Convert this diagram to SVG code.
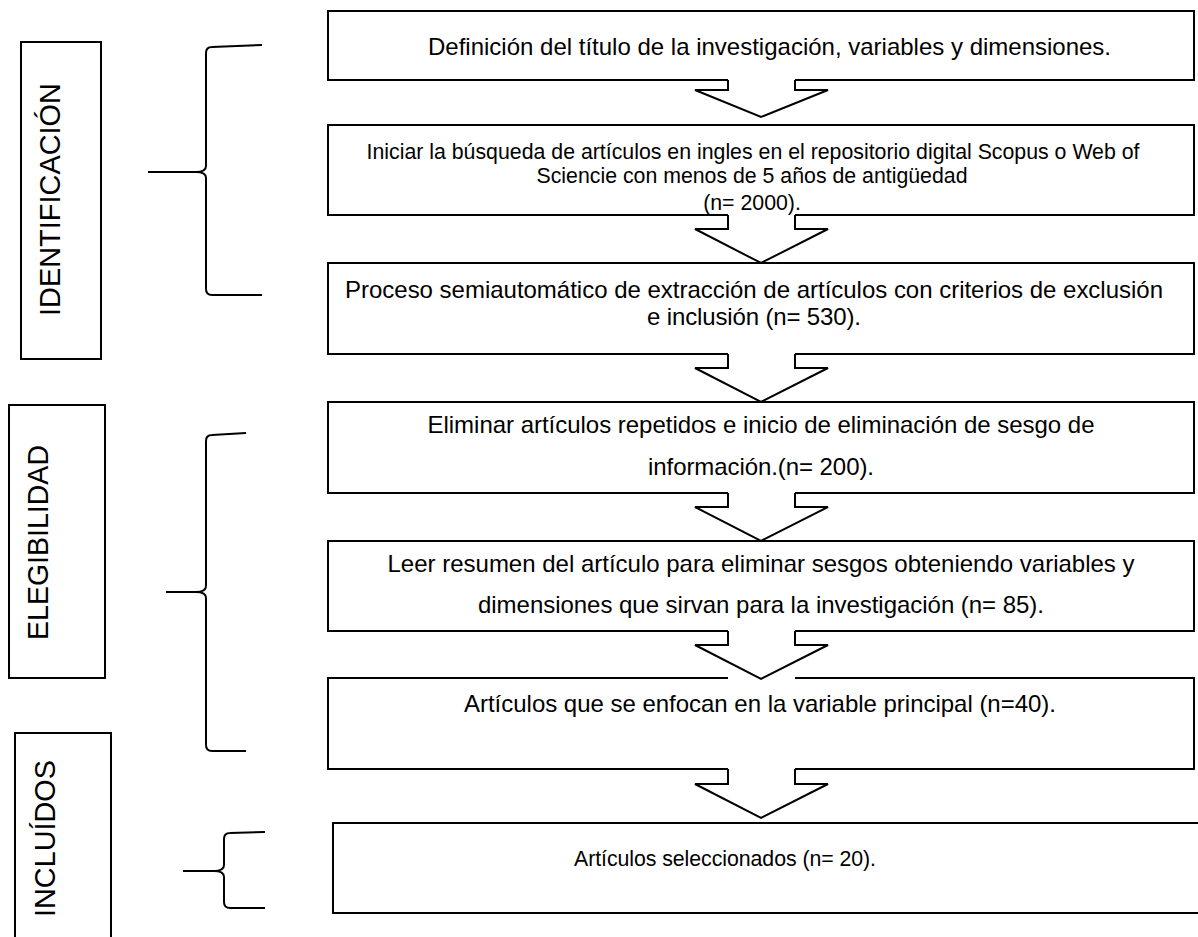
<svg xmlns="http://www.w3.org/2000/svg" width="1198" height="937" viewBox="0 0 1198 937">
<style>
.bx{fill:none;stroke:#000;stroke-width:2;stroke-linejoin:miter}
.lb{fill:#fff;stroke:#000;stroke-width:2}
.br{fill:none;stroke:#000;stroke-width:2;stroke-linecap:butt}
.ar{fill:#fff;stroke:#000;stroke-width:2;stroke-linejoin:miter}
.t{font-family:"Liberation Sans",Arial,sans-serif;fill:#000;text-anchor:middle}
.v{font-family:"Liberation Sans",Arial,sans-serif;fill:#000;font-size:29px}
</style>
<rect width="1198" height="937" fill="#fff"/>
<g id="label-identificacion">
<rect class="lb" x="21" y="42" width="80" height="317"/>
<text class="v" transform="translate(60,316) rotate(-90)" textLength="233" lengthAdjust="spacingAndGlyphs">IDENTIFICACIÓN</text>
</g>
<g id="label-elegibilidad">
<rect class="lb" x="9" y="405" width="96" height="273"/>
<text class="v" transform="translate(48,640) rotate(-90)" textLength="195" lengthAdjust="spacingAndGlyphs">ELEGIBILIDAD</text>
</g>
<g id="label-incluidos">
<rect class="lb" x="15" y="733" width="96" height="230"/>
<text class="v" transform="translate(55,917) rotate(-90)" textLength="157" lengthAdjust="spacingAndGlyphs">INCLUÍDOS</text>
</g>
<g id="brace-identificacion">
<path class="br" d="M262,45 L212,47 Q206,47 206,53 L206,166 Q206,172 196,172 L148,172 M196,172 Q206,172 206,178 L206,289 Q206,295 212,295 L262,295"/>
</g>
<g id="brace-elegibilidad">
<path class="br" d="M246,433 L212,435 Q206,435 206,441 L206,586 Q206,592 196,592 L166,592 M196,592 Q206,592 206,598 L206,745 Q206,751 212,751 L246,751"/>
</g>
<g id="brace-incluidos">
<path class="br" d="M265,832 L230,833 Q224,833 224,839 L224,865 Q224,871 214,871 L183,871 M214,871 Q224,871 224,877 L224,902 Q224,908 230,908 L265,908"/>
</g>
<g id="box1">
<path class="bx" d="M728,80 H328 V11 H1194 V80 H795"/>
<text class="t" x="428" y="55" font-size="24" style="text-anchor:start">Definición del título de la investigación, variables y dimensiones.</text>
</g>
<g id="box2">
<path class="bx" d="M728,215 H328 V125 H1194 V215 H795"/>
<text class="t" x="753" y="159" font-size="21.3" textLength="773">Iniciar la búsqueda de artículos en ingles en el repositorio digital Scopus o Web of</text>
<text class="t" x="752" y="183" font-size="21.3" textLength="431">Sciencie con menos de 5 años de antigüedad</text>
<text class="t" x="752" y="210" font-size="21.3">(n= 2000).</text>
</g>
<g id="box3">
<path class="bx" d="M728,354 H328 V263 H1194 V354 H795"/>
<text class="t" x="754" y="298" font-size="24" textLength="818">Proceso semiautomático de extracción de artículos con criterios de exclusión</text>
<text class="t" x="754" y="325" font-size="24" textLength="214">e inclusión (n= 530).</text>
</g>
<g id="box4">
<path class="bx" d="M728,493 H328 V402 H1194 V493 H795"/>
<text class="t" x="761" y="433" font-size="24" textLength="667">Eliminar artículos repetidos e inicio de eliminación de sesgo de</text>
<text class="t" x="761" y="475" font-size="24" textLength="226">información.(n= 200).</text>
</g>
<g id="box5">
<path class="bx" d="M728,631 H328 V541 H1194 V631 H795"/>
<text class="t" x="761" y="572" font-size="24" textLength="747">Leer resumen del artículo para eliminar sesgos obteniendo variables y</text>
<text class="t" x="761" y="613" font-size="24" textLength="566">dimensiones que sirvan para la investigación (n= 85).</text>
</g>
<g id="box6">
<path class="bx" d="M728,678 H328 V769 H728 M795,769 H1194 V678 H795"/>
<text class="t" x="760" y="712" font-size="24" textLength="592">Artículos que se enfocan en la variable principal (n=40).</text>
</g>
<g id="box7">
<rect class="bx" x="333" y="823" width="900" height="90"/>
<text class="t" x="725" y="866" font-size="21.3" textLength="302">Artículos seleccionados (n= 20).</text>
</g>
<g id="connectors">
<polyline class="ar" points="728,80 728,90 695,90 761,117 828,90 795,90 795,80"/>
<polyline class="ar" points="728,215 728,229 695,229 761,263 828,229 795,229 795,215"/>
<polyline class="ar" points="728,354 728,368 695,368 761,402 828,368 795,368 795,354"/>
<polyline class="ar" points="728,493 728,507 695,507 761,541 828,507 795,507 795,493"/>
<polyline class="ar" points="728,631 728,645 695,645 761,679 828,645 795,645 795,631"/>
<polyline class="ar" points="728,769 728,784 695,784 761,818 828,784 795,784 795,769"/>
</g>
</svg>
